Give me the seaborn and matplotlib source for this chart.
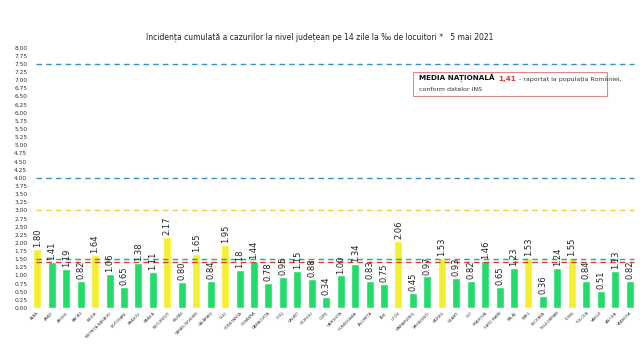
import matplotlib
matplotlib.use("Agg")
import matplotlib.pyplot as plt
import seaborn as sns
import pandas as pd

counties = ["ALBA", "ARAD", "ARGEȘ", "BACĂU", "BIHOR", "BISTRIȚA-NĂSĂUD", "BOTOȘANI", "BRAȘOV",
            "BRĂILA", "BUCUREȘTI", "BUZĂU", "CARAȘ-SEVERIN", "CĂLĂRAȘI", "CLUJ", "CONSTANȚA",
            "COVASNA", "DÂMBOVIȚA", "DOLJ", "GALAȚI", "GIURGIU", "GORJ", "HARGHITA", "HUNEDOARA",
            "IALOMIȚA", "IAȘI", "ILFOV", "MARAMUREȘ", "MEHEDINȚI", "MUREȘ", "NEAMȚ", "OLT",
            "PRAHOVA", "SATU MARE", "SĂLAJ", "SIBIU", "SUCEAVA", "TELEORMAN", "TIMIȘ", "TULCEA",
            "VASLUI", "VÂLCEA", "VRANCEA"]
values = [1.80, 1.41, 1.19, 0.82, 1.64, 1.06, 0.65, 1.38, 1.11, 2.17, 0.80, 1.65, 0.84, 1.95,
          1.18, 1.44, 0.78, 0.95, 1.15, 0.88, 0.34, 1.00, 1.34, 0.83, 0.75, 2.06, 0.45, 0.97,
          1.53, 0.93, 0.82, 1.46, 0.65, 1.23, 1.53, 0.36, 1.24, 1.55, 0.84, 0.51, 1.13, 0.82]
national_mean = 1.41
yticks = [i * 0.25 for i in range(33)]

YELLOW = "#F4F030"
GREEN = "#22DC6A"

df = pd.DataFrame({"county": counties, "value": values})
df["grp"] = ["high" if v > 1.5 else "low" for v in values]

sns.set_style("white")
fig = plt.figure(figsize=(6.4, 3.59), dpi=100)
ax = fig.add_axes([0.047, 0.142, 0.948, 0.727])

sns.barplot(data=df, x="county", y="value", hue="grp", palette={"high": YELLOW, "low": GREEN},
            dodge=False, width=0.55, legend=False, ax=ax, saturation=1)

dash = (0, (4, 3))
ax.axhline(7.5, color="#3A8FC0", ls=dash, lw=1.0, xmin=0.01, xmax=0.995)
ax.axhline(4.0, color="#3A8FC0", ls=dash, lw=1.0, xmin=0.01, xmax=0.995)
ax.axhline(3.0, color="#E2D24A", ls=dash, lw=1.0, xmin=0.01, xmax=0.995)
ax.axhline(1.5, color="#3AA36A", ls=dash, lw=1.0, xmin=0.01, xmax=0.995)
ax.axhline(national_mean, color="#D83A3A", ls=dash, lw=1.0, xmin=0.01, xmax=0.995)

for i, v in enumerate(values):
    ax.text(i, v + 0.06, f"{v:.2f}", rotation=90, ha="center", va="bottom",
            fontsize=6, color="#222222")

ax.set_ylim(0, 8.02)
ax.set_xlim(-0.5, len(counties) - 0.5)
ax.set_yticks(yticks)
ax.set_yticklabels([f"{t:.2f}" for t in yticks], fontsize=4.2, color="#333333")
ax.set_xticks(range(len(counties)))
ax.set_xticklabels(counties, rotation=45, ha="right", rotation_mode="anchor",
                   fontsize=2.8, color="#333333")
ax.tick_params(axis="both", length=0, pad=2)
ax.set_xlabel("")
ax.set_ylabel("")
for s in ax.spines.values():
    s.set_visible(False)

fig.text(0.5, 0.897, "Incidența cumulată a cazurilor la nivel județean pe 14 zile la ‰ de locuitori *   5 mai 2021",
         ha="center", va="center", fontsize=5.5, color="#222222")

box_x, box_y, box_w, box_h = 0.631, 0.812, 0.32, 0.092
ax.add_patch(plt.Rectangle((box_x, box_y), box_w, box_h, transform=ax.transAxes,
                           fill=False, ec="#E08A8A", lw=0.8))
t1 = ax.text(box_x + 0.01, box_y + 0.062, "MEDIA NAȚIONALĂ", transform=ax.transAxes,
             fontsize=5.2, fontweight="bold", color="#111111", va="baseline")
t2 = ax.annotate("1,41", xy=(1, 0), xycoords=t1, xytext=(3, 0), textcoords="offset points",
                 fontsize=5.2, fontweight="bold", color="#D83A3A", va="bottom")
ax.annotate("- raportat la populația României,", xy=(1, 0), xycoords=t2, xytext=(2, 0),
            textcoords="offset points", fontsize=4.5, color="#333333", va="bottom")
ax.text(box_x + 0.01, box_y + 0.018, "conform datelor INS", transform=ax.transAxes,
        fontsize=4.5, color="#333333", va="baseline")

fig.savefig("out.png", dpi=100, facecolor="white")
